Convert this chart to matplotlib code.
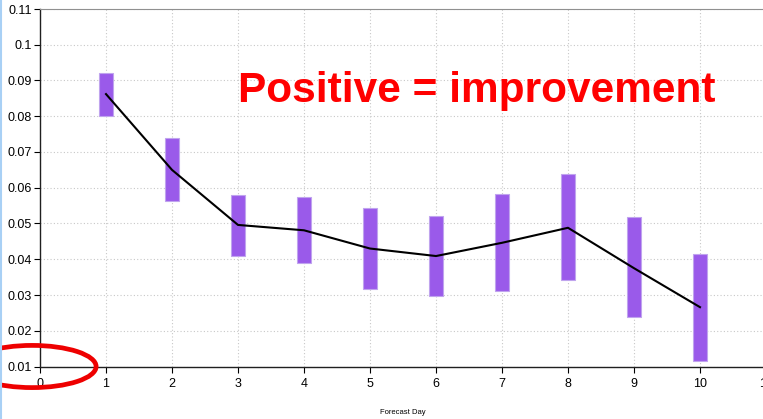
import numpy as np
import matplotlib.pyplot as plt
from matplotlib.patches import Ellipse
from matplotlib.lines import Line2D
from matplotlib.ticker import FuncFormatter

# forecast day vs. improvement (range bars + mean line)
days = [1, 2, 3, 4, 5, 6, 7, 8, 9, 10]
low = [0.0801, 0.0563, 0.0409, 0.0389, 0.0317, 0.0297, 0.0311, 0.0341, 0.0238, 0.0115]
high = [0.0921, 0.0738, 0.0581, 0.0575, 0.0543, 0.0520, 0.0582, 0.0638, 0.0519, 0.0415]
mean = [0.0862, 0.0650, 0.0496, 0.0481, 0.0430, 0.0409, 0.0446, 0.0488, 0.0375, 0.0266]
x_ticks = list(range(0, 12))
y_ticks = [0.01, 0.02, 0.03, 0.04, 0.05, 0.06, 0.07, 0.08, 0.09, 0.1, 0.11]

plt.rcParams['font.family'] = ['Liberation Sans', 'DejaVu Sans']

W, H = 763, 419
fig = plt.figure(figsize=(W / 100, H / 100), dpi=100)
# axes runs off the right edge of the picture, like the original screenshot
ax = fig.add_axes([40 / W, (H - 366.5) / H, 726 / W, 357.5 / H])

d = np.array(days)
lo, hi = np.array(low), np.array(high)
ax.bar(d, hi - lo, bottom=lo, width=0.2, color='#9a5aea', edgecolor='#c0a4ee',
       linewidth=0.8, zorder=3)
ax.plot(d, mean, color='black', lw=1.5, zorder=4)

ax.set_xlim(0, 11)
ax.set_ylim(0.01, 0.11)
ax.set_xticks(x_ticks)
ax.set_yticks(y_ticks)
ax.yaxis.set_major_formatter(FuncFormatter(lambda v, p: '%g' % round(v, 3)))
ax.tick_params(direction='out', length=4, width=0.8, labelsize=9, colors='black', pad=2)
ax.tick_params(axis='x', pad=4)
ax.grid(True, color='#c8c8c8', lw=0.8, linestyle=(0, (1, 2)), zorder=0)
ax.spines['top'].set_color('#909090')
ax.spines['right'].set_visible(False)
for s in ['left', 'bottom']:
    ax.spines[s].set_color('#202020')
    ax.spines[s].set_linewidth(1.0)

ax.text(3.0, 0.0841, 'Positive = improvement', color='#ff0000', fontsize=30.5,
        fontweight='bold', ha='left', va='baseline', zorder=5)

ell = Ellipse((-0.12, 0.01), 1.94, 0.0118, fill=False, edgecolor='#ee0000',
              lw=3.4, clip_on=False, zorder=6)
ax.add_patch(ell)

fig.text(403 / W, 1 - 412.5 / H, 'Forecast Day', fontsize=5.5, ha='center', va='center')
fig.add_artist(Line2D([0.8 / W, 0.8 / W], [0, 1], color='#a8d0f5', lw=1.5))

fig.savefig('out.png', dpi=100)
